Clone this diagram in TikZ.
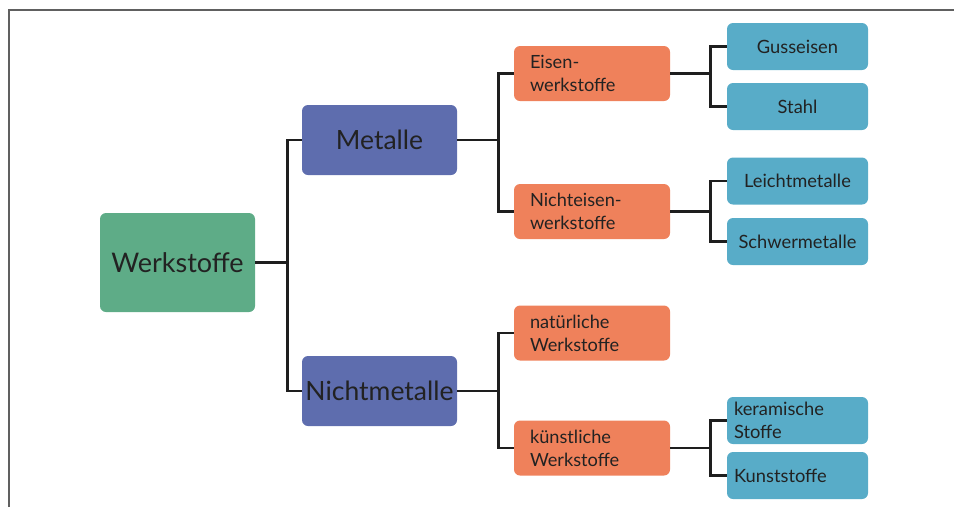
\documentclass[tikz,border=0pt]{standalone}
\usepackage{fontspec}
\setmainfont{Lato}
\definecolor{cgreen}{HTML}{5EAC87}
\definecolor{cpurple}{HTML}{5E6DAE}
\definecolor{corange}{HTML}{EF815B}
\definecolor{cblue}{HTML}{58ACC8}
\definecolor{ctext}{HTML}{222222}
\definecolor{cline}{HTML}{1E1E1E}
\definecolor{cframe}{HTML}{606060}
\begin{document}
\begin{tikzpicture}[x=1pt,y=-1pt,
  box/.style={rounded corners=6pt, inner sep=0pt, text=ctext},
  root/.style={box, fill=cgreen, minimum width=155pt, minimum height=99pt, font=\fontsize{27}{31}\selectfont},
  lvlone/.style={box, fill=cpurple, minimum width=155pt, minimum height=70pt, font=\fontsize{26.5}{30}\selectfont},
  lvltwo/.style={box, fill=corange, minimum height=55pt, inner xsep=16pt, text width=124pt, align=left, font=\fontsize{18.2}{23}\selectfont},
  leafc/.style={box, fill=cblue, minimum width=141pt, minimum height=47pt, align=center, font=\fontsize{18.3}{23}\selectfont},
  leafl/.style={box, fill=cblue, minimum height=47pt, inner xsep=7pt, text width=127pt, align=left, font=\fontsize{18.3}{23}\selectfont},
  conn/.style={draw=cline, line width=2.6pt}
]
\useasboundingbox (0,0) rectangle (954,507);
\draw[cframe, line width=1.3pt] (9,507) -- (9,10) -- (954,10);

\node[root] (w) at (177.5,262.5) {Werkstoffe};
\node[lvlone] (m) at (379.5,140) {Metalle};
\node[lvlone] (n) at (379.5,391) {Nichtmetalle};

\node[lvltwo] (ei) at (592,73.5) {Eisen-\\werkstoffe};
\node[lvltwo] (ne) at (592,211.5) {Nichteisen-\\werkstoffe};
\node[lvltwo] (na) at (592,333) {natürliche\\Werkstoffe};
\node[lvltwo] (ku) at (592,448) {künstliche\\Werkstoffe};

\node[leafc] (gu) at (797.5,46.5) {Gusseisen};
\node[leafc] (st) at (797.5,106.5) {Stahl};
\node[leafc] (le) at (797.5,181) {Leichtmetalle};
\node[leafc] (sc) at (797.5,241.5) {Schwermetalle};
\node[leafl] (ke) at (797.5,420.5) {keramische\\Stoffe};
\node[leafl] (ks) at (797.5,475.5) {Kunststoffe};

\draw[conn] (w.east) -- ++(32,0) |- (m.west);
\draw[conn] (w.east) -- ++(32,0) |- (n.west);
\draw[conn] (m.east) -- ++(41,0) |- (ei.west);
\draw[conn] (m.east) -- ++(41,0) |- (ne.west);
\draw[conn] (n.east) -- ++(41,0) |- (na.west);
\draw[conn] (n.east) -- ++(41,0) |- (ku.west);
\draw[conn] (ei.east) -- ++(40,0) |- (gu.west);
\draw[conn] (ei.east) -- ++(40,0) |- (st.west);
\draw[conn] (ne.east) -- ++(40,0) |- (le.west);
\draw[conn] (ne.east) -- ++(40,0) |- (sc.west);
\draw[conn] (ku.east) -- ++(40,0) |- (ke.west);
\draw[conn] (ku.east) -- ++(40,0) |- (ks.west);
\end{tikzpicture}
\end{document}
